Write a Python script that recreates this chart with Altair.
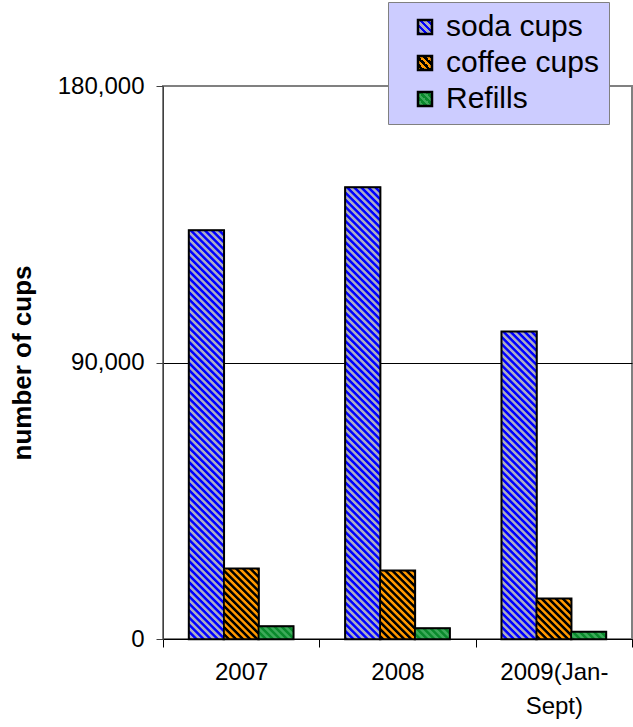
import base64
import altair as alt
import pandas as pd

# ---------------- data ----------------
years = ["2007", "2008", "2009(Jan-Sept)"]
series = ["soda cups", "coffee cups", "Refills"]
soda = [133000, 147000, 100000]
coffee = [22900, 22200, 13100]
refills = [4100, 3450, 2280]
y_ticks = [0, 90000, 180000]

rows = []
for i, yr in enumerate(years):
    for s, vals in zip(series, [soda, coffee, refills]):
        rows.append({"year": yr, "series": s, "cups": vals[i]})
df = pd.DataFrame(rows)

# ---------------- styles ----------------
FONT = "Liberation Sans"
stripe_a = ["#0000FF", "#FF9900", "#0A8A2C"]
stripe_b = ["#ABABC4", "#000000", "#3DAA5A"]


def pattern_uri(c1, c2, period=5.0):
    h = period / 2
    svg = (
        "<svg xmlns='http://www.w3.org/2000/svg'><defs>"
        f"<pattern id='p' width='{period}' height='{period}' patternUnits='userSpaceOnUse' "
        "patternTransform='rotate(-45)'>"
        f"<rect width='{period}' height='{period}' fill='{c2}'/>"
        f"<rect width='{h}' height='{period}' fill='{c1}'/>"
        "</pattern></defs><rect width='100%' height='100%' fill='url(#p)'/></svg>"
    )
    return "data:image/svg+xml;base64," + base64.b64encode(svg.encode()).decode()


def grad_expr(c1, c2, n=4):
    stops = []
    for k in range(2 * n):
        col = c1 if k % 2 == 0 else c2
        o0, o1 = k / (2 * n), (k + 1) / (2 * n)
        stops.append(f"{{offset:{o0:.4f},color:'{col}'}}")
        stops.append(f"{{offset:{o1:.4f},color:'{col}'}}")
    return "{gradient:'linear',x1:0,y1:1,x2:1,y2:0,stops:[" + ",".join(stops) + "]}"


uris = [pattern_uri(a, b) for a, b in zip(stripe_a, stripe_b)]
url_expr = (
    f"datum.series === '{series[0]}' ? '{uris[0]}' : "
    f"datum.series === '{series[1]}' ? '{uris[1]}' : '{uris[2]}'"
)
grads = [grad_expr(a, b) for a, b in zip(stripe_a, stripe_b)]
legend_fill_expr = (
    f"datum.value === '{series[0]}' ? {grads[0]} : "
    f"datum.value === '{series[1]}' ? {grads[1]} : {grads[2]}"
)

x_enc = alt.X(
    "year:N",
    sort=years,
    scale=alt.Scale(paddingInner=0, paddingOuter=0),
    axis=alt.Axis(
        title=None,
        labelAngle=0,
        labelFont=FONT,
        labelFontSize=24,
        labelColor="black",
        labelPadding=13,
        labelLineHeight=34,
        labelExpr="datum.value == '2009(Jan-Sept)' ? ['2009(Jan-', 'Sept)'] : datum.label",
        tickBand="extent",
        tickSize=8,
        tickColor="#000000",
        domainColor="#000000",
        grid=False,
    ),
)
xoff_enc = alt.XOffset("series:N", sort=series,
                       scale=alt.Scale(paddingInner=0, paddingOuter=0.75))
y_enc = alt.Y(
    "cups:Q",
    scale=alt.Scale(domain=[0, 180000], nice=False),
    axis=alt.Axis(
        values=y_ticks,
        format=",.0f",
        labelFont=FONT,
        labelFontSize=24,
        labelColor="black",
        labelPadding=12,
        tickSize=7,
        tickColor="#404040",
        domainColor="#404040",
        grid=True,
        gridColor={"condition": {"test": "datum.value === 180000", "value": "#808080"},
                   "value": "#000000"},
        title="number of cups",
        titleFont=FONT,
        titleFontSize=26,
        titleFontWeight="bold",
        titleColor="black",
        titleAngle=270,
        titleX=-133,
        titleY=276.5,
        titleAlign="center",
        titleBaseline="alphabetic",
    ),
)

base = alt.Chart(df)

# bottom layer: carries the legend (its fill is hidden under the pattern images)
legend_layer = base.mark_bar(
    fill={"expr": legend_fill_expr}, stroke="#000000", strokeWidth=2.5,
    strokeOpacity=1,
).encode(
    x=x_enc,
    xOffset=xoff_enc,
    y=y_enc,
    opacity=alt.Opacity(
        "series:N",
        sort=series,
        scale=alt.Scale(domain=series, range=[1, 1, 1]),
        legend=alt.Legend(
            title=None,
            orient="none",
            legendX=225,
            legendY=-84,
            fillColor="#CCCCFF",
            strokeColor="#808080",
            padding=10,
            labelFont=FONT,
            labelFontSize=30,
            labelColor="black",
            symbolType="square",
            symbolSize=196,
            symbolStrokeWidth=2.5,
            symbolOffset=12,
            labelOffset=6,
            rowPadding=6,
        ),
    ),
)

stripes = base.transform_calculate(url=url_expr).mark_image(aspect=False).encode(
    x=x_enc,
    xOffset=xoff_enc,
    y=y_enc,
    url="url:N",
)

outline = base.mark_bar(fillOpacity=0, stroke="black", strokeWidth=1.5).encode(
    x=x_enc,
    xOffset=xoff_enc,
    y=y_enc,
)

chart = (
    alt.layer(legend_layer, stripes, outline)
    .properties(
        width=469,
        height=553,
        autosize=alt.AutoSizeParams(type="none"),
        padding={"left": 163, "top": 86, "right": 1, "bottom": 88},
        background="white",
    )
    .configure_view(stroke="#808080", strokeWidth=2)
)

chart.save("out.html", embed_options={"renderer": "svg", "actions": False})
